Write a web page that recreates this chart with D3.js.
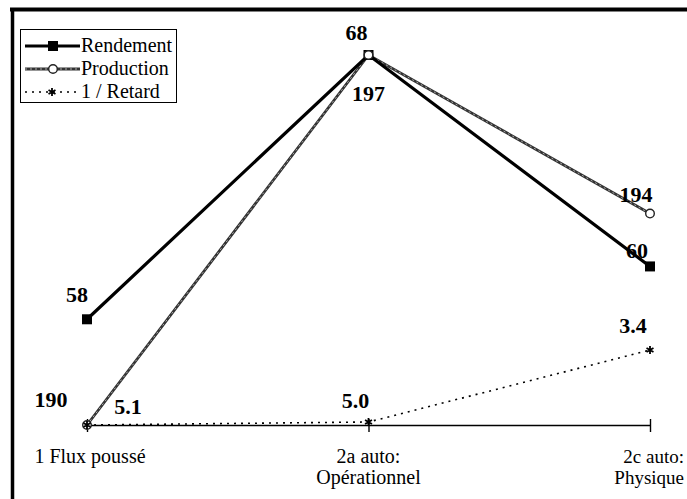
<!DOCTYPE html>
<html>
<head>
<meta charset="utf-8">
<script src="https://cdn.jsdelivr.net/npm/d3@7"></script>
<style>
  html, body { margin: 0; padding: 0; background: #fff; }
  svg { display: block; }
  svg text { font-family: "Times New Roman", "Liberation Serif", serif; }
</style>
</head>
<body>
<svg id="chart" width="687" height="499"></svg>
<script>
// Categories along the bottom axis (each split over lines)
const categories = ["1 Flux poussé", "2a auto: Opérationnel", "2c auto: Physique"];
const categoryLines = [["1 Flux poussé"], ["2a  auto:", "Opérationnel"], ["2c  auto:", "Physique"]];

// Series values
const rendement = [58, 68, 60];
const production = [190, 197, 194];
const retard = [5.1, 5.0, 3.4];          // labelled values; plotted as 1 / retard
const invRetard = retard.map(r => 1 / r);

// Each series has its own hidden value range
const rendementDomain = [54, 68];
const productionDomain = [190, 197];
const retardDomain = [1 / 5.1, 0.68];

const FONT = "'Times New Roman', 'Liberation Serif', serif";
const svg = d3.select("#chart");

const x = d3.scalePoint().domain(categories).range([87, 650]);
const yTop = 55, yBase = 425;
const yRend = d3.scaleLinear().domain(rendementDomain).range([yBase, yTop]);
const yProd = d3.scaleLinear().domain(productionDomain).range([yBase, yTop]);
const yRet = d3.scaleLinear().domain(retardDomain).range([yBase, yTop]);

// Frame (top and left edges)
svg.append("line").attr("x1", 10).attr("x2", 687).attr("y1", 9.5).attr("y2", 9.5)
  .attr("stroke", "#000").attr("stroke-width", 4);
svg.append("line").attr("x1", 12.5).attr("x2", 12.5).attr("y1", 8).attr("y2", 499)
  .attr("stroke", "#000").attr("stroke-width", 3.5);

// Category axis
const axis = svg.append("g").attr("transform", `translate(0,${yBase})`)
  .call(d3.axisBottom(x).tickSizeInner(0).tickSizeOuter(0).tickFormat(""));
axis.select(".domain").attr("stroke", "#000").attr("stroke-width", 1.6);
axis.selectAll(".tick line").attr("y1", -6).attr("y2", 7).attr("stroke", "#000").attr("stroke-width", 1.4);

// Category labels: the last one is right-aligned so it stays inside the page
const labelOffsets = [3, 0, 34];
const labelAnchors = ["middle", "middle", "end"];
const labelSizes = [20, 20, 19];
categories.forEach((c, i) => {
  const lx = x(c) + labelOffsets[i];
  const t = svg.append("text")
    .attr("x", lx)
    .attr("y", 463)
    .attr("text-anchor", labelAnchors[i])
    .attr("font-family", FONT)
    .attr("font-size", labelSizes[i])
    .attr("fill", "#000");
  categoryLines[i].forEach((ln, j) => {
    t.append("tspan").attr("x", lx).attr("dy", j === 0 ? 0 : 21).text(ln);
  });
});

const line = (scale) => d3.line().x((d, i) => x(categories[i])).y(d => scale(d));

// 1 / Retard: dotted line
svg.append("path").datum(invRetard)
  .attr("d", line(yRet))
  .attr("fill", "none").attr("stroke", "#000").attr("stroke-width", 1.6)
  .attr("stroke-dasharray", "2,5");

// Production: textured grey line
svg.append("path").datum(production)
  .attr("d", line(yProd))
  .attr("fill", "none").attr("stroke", "#333").attr("stroke-width", 2.8);
svg.append("path").datum(production)
  .attr("d", line(yProd))
  .attr("fill", "none").attr("stroke", "#bbb").attr("stroke-width", 0.9)
  .attr("stroke-dasharray", "2,3");

// Rendement: heavy black line
svg.append("path").datum(rendement)
  .attr("d", line(yRend))
  .attr("fill", "none").attr("stroke", "#000").attr("stroke-width", 3.2);

// Markers
const star = d3.symbol().type(d3.symbolAsterisk).size(45);

svg.selectAll(".m-rend").data(rendement).join("rect")
  .attr("x", (d, i) => x(categories[i]) - 5).attr("y", d => yRend(d) - 5)
  .attr("width", 10).attr("height", 10).attr("fill", "#000");

svg.selectAll(".m-prod").data(production).join("circle")
  .attr("cx", (d, i) => x(categories[i])).attr("cy", d => yProd(d))
  .attr("r", 4.3).attr("fill", "#fff").attr("stroke", "#222").attr("stroke-width", 1.4);

svg.selectAll(".m-ret").data(invRetard).join("path")
  .attr("transform", (d, i) => `translate(${x(categories[i])},${yRet(d)})`)
  .attr("d", star).attr("fill", "none").attr("stroke", "#000").attr("stroke-width", 1.8);

// Value labels
const labelStyle = sel => sel.attr("font-family", FONT).attr("font-size", 22).attr("font-weight", "bold")
  .attr("text-anchor", "middle").attr("fill", "#000");

const rendOff = [[-10, -17], [-12, -15], [-13, -8]];
svg.selectAll(".l-rend").data(rendement).join("text")
  .attr("x", (d, i) => x(categories[i]) + rendOff[i][0])
  .attr("y", (d, i) => yRend(d) + rendOff[i][1])
  .text(d => d).call(labelStyle);

const prodOff = [[-36, -18], [0, 46], [-14, -12]];
svg.selectAll(".l-prod").data(production).join("text")
  .attr("x", (d, i) => x(categories[i]) + prodOff[i][0])
  .attr("y", (d, i) => yProd(d) + prodOff[i][1])
  .text(d => d).call(labelStyle);

const retOff = [[41, -11], [-13, -14], [-17, -17]];
svg.selectAll(".l-ret").data(invRetard).join("text")
  .attr("x", (d, i) => x(categories[i]) + retOff[i][0])
  .attr("y", (d, i) => yRet(d) + retOff[i][1])
  .text((d, i) => retard[i].toFixed(1)).call(labelStyle);

// Legend
const lg = svg.append("g");
lg.append("rect").attr("x", 20.5).attr("y", 29.5).attr("width", 156).attr("height", 73)
  .attr("fill", "#fff").attr("stroke", "#000").attr("stroke-width", 1);

const legendRows = [
  { name: "Rendement", y: 46 },
  { name: "Production", y: 69 },
  { name: "1 / Retard", y: 92 }
];
// Rendement sample
lg.append("line").attr("x1", 25).attr("x2", 80).attr("y1", legendRows[0].y).attr("y2", legendRows[0].y)
  .attr("stroke", "#000").attr("stroke-width", 3.2);
lg.append("rect").attr("x", 48).attr("y", legendRows[0].y - 5).attr("width", 10).attr("height", 10).attr("fill", "#000");
// Production sample
lg.append("line").attr("x1", 25).attr("x2", 80).attr("y1", legendRows[1].y).attr("y2", legendRows[1].y)
  .attr("stroke", "#333").attr("stroke-width", 2.8);
lg.append("line").attr("x1", 25).attr("x2", 80).attr("y1", legendRows[1].y).attr("y2", legendRows[1].y)
  .attr("stroke", "#bbb").attr("stroke-width", 0.9).attr("stroke-dasharray", "2,3");
lg.append("circle").attr("cx", 53).attr("cy", legendRows[1].y).attr("r", 4.3)
  .attr("fill", "#fff").attr("stroke", "#222").attr("stroke-width", 1.4);
// 1 / Retard sample
lg.append("line").attr("x1", 25).attr("x2", 80).attr("y1", legendRows[2].y).attr("y2", legendRows[2].y)
  .attr("stroke", "#000").attr("stroke-width", 1.6).attr("stroke-dasharray", "2,5");
lg.append("path").attr("transform", `translate(52,${legendRows[2].y})`).attr("d", star)
  .attr("fill", "none").attr("stroke", "#000").attr("stroke-width", 1.8);

lg.selectAll(".lt").data(legendRows).join("text")
  .attr("x", 81).attr("y", d => d.y + 6)
  .attr("font-family", FONT)
  .attr("font-size", 20).attr("fill", "#000")
  .text(d => d.name);
</script>
</body>
</html>
